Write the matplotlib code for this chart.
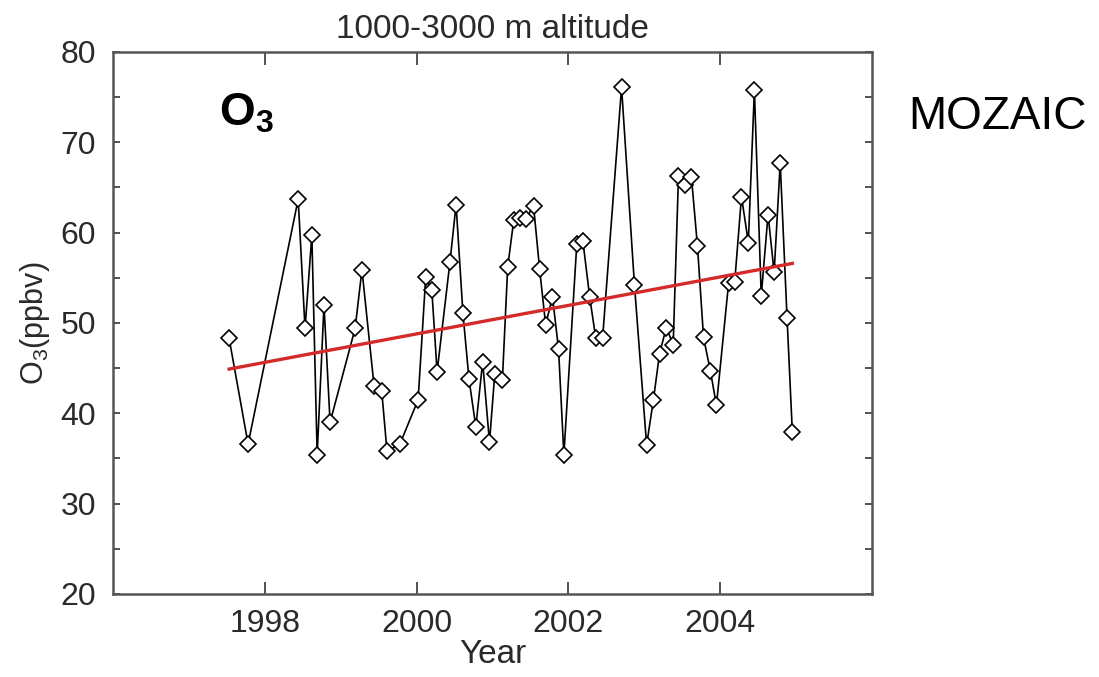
import matplotlib
matplotlib.use("Agg")
import matplotlib.pyplot as plt
import numpy as np

plt.rcParams['font.family'] = ['Liberation Sans', 'DejaVu Sans']
plt.rcParams['mathtext.fontset'] = 'custom'
plt.rcParams['mathtext.rm'] = 'Liberation Sans'
plt.rcParams['mathtext.bf'] = 'Liberation Sans:bold'

# monthly mean O3, 1000-3000 m (decimal year, ppbv)
years = [1997.53, 1997.78,
         1998.44, 1998.53, 1998.62, 1998.69, 1998.78, 1998.86,
         1999.19, 1999.28, 1999.44, 1999.54, 1999.61, 1999.78,
         2000.02, 2000.12, 2000.20, 2000.27, 2000.44, 2000.52, 2000.61, 2000.69, 2000.78, 2000.87, 2000.96,
         2001.03, 2001.13, 2001.20, 2001.28, 2001.36, 2001.44, 2001.54, 2001.62, 2001.70, 2001.79, 2001.87, 2001.94,
         2002.11, 2002.19, 2002.28, 2002.36, 2002.45, 2002.70, 2002.87,
         2003.03, 2003.12, 2003.20, 2003.29, 2003.38, 2003.45, 2003.54, 2003.62, 2003.70, 2003.78, 2003.87, 2003.95,
         2004.11, 2004.19, 2004.28, 2004.37, 2004.45, 2004.54, 2004.63, 2004.71, 2004.79, 2004.88, 2004.95]
o3 = [48.3, 36.6,
      63.7, 49.4, 59.7, 35.4, 52.0, 39.0,
      49.4, 55.9, 43.0, 42.5, 35.8, 36.6,
      41.5, 55.1, 53.7, 44.6, 56.8, 63.1, 51.1, 43.8, 38.5, 45.7, 36.8,
      44.4, 43.7, 56.2, 61.4, 61.6, 61.5, 63.0, 56.0, 49.8, 52.9, 47.1, 35.4,
      58.7, 59.1, 52.9, 48.3, 48.3, 76.1, 54.2,
      36.5, 41.5, 46.6, 49.5, 47.6, 66.3, 65.3, 66.2, 58.5, 48.4, 44.7, 40.9,
      54.4, 54.5, 64.0, 58.9, 75.8, 53.0, 62.0, 55.6, 67.7, 50.6, 37.9]

# linear trend end points
trend_years = [1997.53, 2004.95]
trend_o3 = [44.9, 56.6]

xticks = [1998, 2000, 2002, 2004]
yticks = [20, 30, 40, 50, 60, 70, 80]

fig = plt.figure(figsize=(10.99, 6.77), dpi=100)
ax = fig.add_axes([0.1028, 0.1226, 0.6907, 0.8006])

ax.plot(years, o3, color='black', linewidth=1.2, marker='D', markersize=8.5,
        markerfacecolor='white', markeredgecolor='black', markeredgewidth=1.2, zorder=3)
ax.plot(trend_years, trend_o3, color='#d42a2a', linewidth=2.4, zorder=4)

ax.set_xlim(1996, 2006)
ax.set_ylim(20, 80)
ax.set_xticks(xticks)
ax.set_yticks(yticks)
ax.set_yticks(np.arange(25, 80, 10), minor=True)

txt_col = '#2a2a2a'
ax.tick_params(axis='both', which='both', direction='in', top=True, right=True,
               labelsize=23, labelcolor=txt_col, color='#444444', width=1.3)
ax.tick_params(axis='x', which='major', length=9, pad=11)
ax.tick_params(axis='y', which='major', length=5, pad=12)
ax.tick_params(axis='y', which='minor', length=5)

for sp in ax.spines.values():
    sp.set_color('#555555')
    sp.set_linewidth(1.8)

ax.set_title('1000-3000 m altitude', fontsize=24, color=txt_col, pad=10)
ax.set_xlabel('Year', fontsize=24, color=txt_col, labelpad=0)
ax.set_ylabel(r'O$_3$(ppbv)', fontsize=22, color=txt_col, labelpad=6)

ax.text(0.14, 0.865, r'$\mathbf{O_3}$', transform=ax.transAxes, fontsize=33,
        color='black')
fig.text(0.826, 0.81, 'MOZAIC', fontsize=33, color='black')

fig.savefig('out.png', dpi=100)
